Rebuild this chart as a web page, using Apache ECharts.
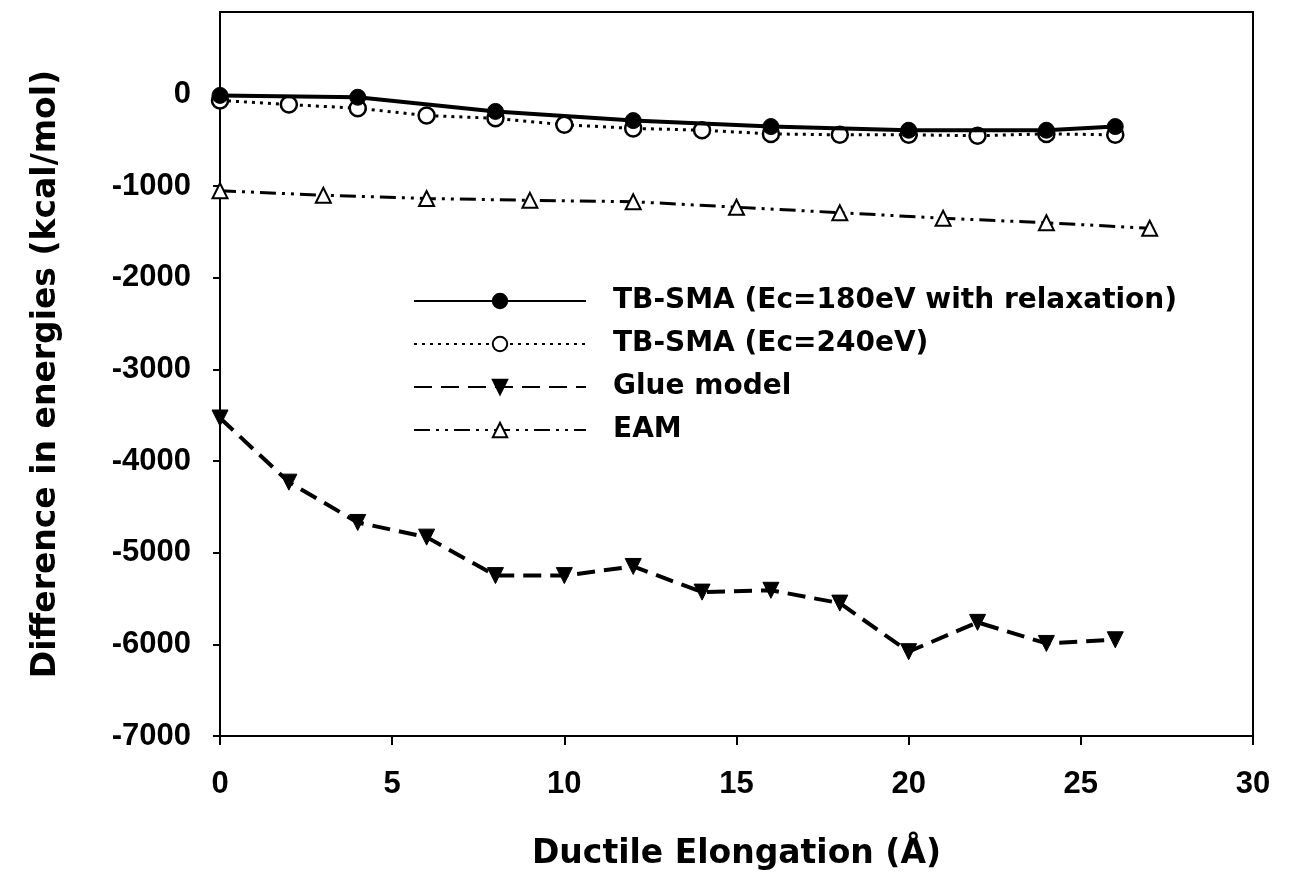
<!DOCTYPE html>
<html>
<head>
<meta charset="utf-8">
<script src="https://cdn.jsdelivr.net/npm/echarts@6/dist/echarts.min.js"></script>
<style>
  html, body { margin: 0; padding: 0; background: #fff; }
  #chart { width: 1298px; height: 882px; }
</style>
</head>
<body>
<div id="chart"></div>
<script>
/* ---- data ---- */
const tb180X = [0, 4, 8, 12, 16, 20, 24, 26];
const tb180Y = [-10, -30, -185, -285, -350, -390, -390, -350];

const tb240X = [0, 2, 4, 6, 8, 10, 12, 14, 16, 18, 20, 22, 24, 26];
const tb240Y = [-65, -110, -150, -230, -260, -330, -370, -390, -430, -440, -440, -450, -430, -440];

const glueX = [0, 2, 4, 6, 8, 10, 12, 14, 16, 18, 20, 22, 24, 26];
const glueY = [-3530, -4230, -4670, -4830, -5250, -5250, -5150, -5430, -5410, -5550, -6080, -5760, -5990, -5950];

const eamX = [0, 3, 6, 9, 12, 15, 18, 21, 24, 27];
const eamY = [-1050, -1100, -1135, -1155, -1170, -1230, -1290, -1350, -1400, -1460];

const seriesNames = [
    'TB-SMA (Ec=180eV with relaxation)',
    'TB-SMA (Ec=240eV)',
    'Glue model',
    'EAM'
];

const pairs = (xs, ys) => xs.map((x, i) => [x, ys[i]]);

const TICK_FONT = 'Liberation Sans, Arial, sans-serif';
const NAME_FONT = 'DejaVu Sans, Verdana, sans-serif';
const tickTxt = { color: '#000', fontFamily: TICK_FONT, fontWeight: 'bold', fontSize: 31 };
const nameTxt = { color: '#000', fontFamily: NAME_FONT, fontWeight: 'bold', fontSize: 33 };

const chart = echarts.init(document.getElementById('chart'));
chart.setOption({
    backgroundColor: '#fff',
    animation: false,
    grid: {
        left: 220, right: 45, top: 12, bottom: 146,
        show: true, borderColor: '#000', borderWidth: 2, backgroundColor: 'transparent'
    },
    legend: {
        orient: 'vertical',
        left: 408, top: 281,
        itemWidth: 172, itemHeight: 18, itemGap: 13,
        data: seriesNames,
        textStyle: { ...nameTxt, fontSize: 28, lineHeight: 30, padding: [0, 0, 0, 22] }
    },
    xAxis: {
        type: 'value', min: 0, max: 30, interval: 5,
        name: 'Ductile Elongation (Å)', nameLocation: 'middle', nameGap: 102,
        nameTextStyle: nameTxt,
        axisLine: { show: true, onZero: false, lineStyle: { color: '#000', width: 2 } },
        axisTick: { show: true, length: 9, lineStyle: { color: '#000', width: 2 } },
        axisLabel: { ...tickTxt, margin: 33, formatter: v => String(v) },
        splitLine: { show: false }
    },
    yAxis: {
        type: 'value', min: -7000, max: 900, interval: 1000,
        name: 'Difference in energies (kcal/mol)', nameLocation: 'middle', nameGap: 157,
        nameTextStyle: nameTxt,
        axisLine: { show: true, onZero: false, lineStyle: { color: '#000', width: 2 } },
        axisTick: { show: true, length: 7, lineStyle: { color: '#000', width: 2 } },
        axisLabel: { ...tickTxt, margin: 29, showMaxLabel: false, formatter: v => String(v) },
        splitLine: { show: false }
    },
    series: [
        {
            name: seriesNames[3], type: 'line', data: pairs(eamX, eamY),
            symbol: 'triangle', symbolSize: 15,
            lineStyle: { color: '#000', width: 3, type: [16, 6, 3, 6, 3, 6] },
            itemStyle: { color: '#fff', borderColor: '#000', borderWidth: 2 },
            z: 2
        },
        {
            name: seriesNames[2], type: 'line', data: pairs(glueX, glueY),
            symbol: 'triangle', symbolRotate: 180, symbolSize: 16,
            lineStyle: { color: '#000', width: 4, type: [18, 9] },
            itemStyle: { color: '#000', borderColor: '#000', borderWidth: 1 },
            z: 2
        },
        {
            name: seriesNames[1], type: 'line', data: pairs(tb240X, tb240Y),
            symbol: 'circle', symbolSize: 16,
            lineStyle: { color: '#000', width: 3, type: [3, 5] },
            itemStyle: { color: '#fff', borderColor: '#000', borderWidth: 2.5 },
            z: 3
        },
        {
            name: seriesNames[0], type: 'line', data: pairs(tb180X, tb180Y),
            symbol: 'circle', symbolSize: 16,
            lineStyle: { color: '#000', width: 4, type: 'solid' },
            itemStyle: { color: '#000', borderColor: '#000', borderWidth: 1 },
            z: 4
        }
    ]
});
</script>
</body>
</html>
